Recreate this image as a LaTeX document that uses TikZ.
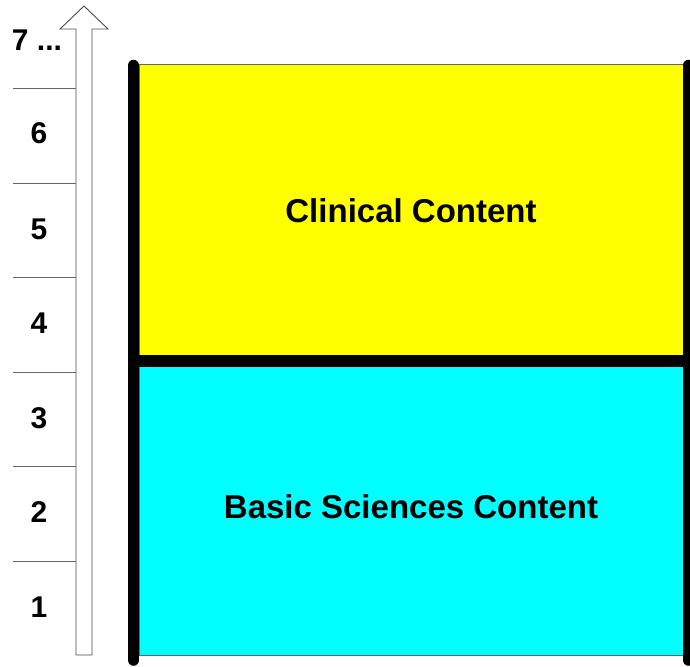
\documentclass[tikz,border=0pt]{standalone}
\usepackage{fontspec}
\setmainfont{Liberation Sans}
\definecolor{clinyellow}{RGB}{255,255,0}
\definecolor{basiccyan}{RGB}{0,255,255}
\begin{document}
\begin{tikzpicture}[x=1pt,y=-1pt,
    bar/.style={line width=11.5pt,line cap=round},
    lbl/.style={font=\fontsize{30}{36}\selectfont\bfseries,inner sep=0pt},
    big/.style={font=\fontsize{33}{40}\selectfont\bfseries,inner sep=0pt}]
            \useasboundingbox (0,0) rectangle (690,666);
            % content blocks
            \filldraw[fill=clinyellow, draw=black!60, line width=0.8pt] (139,64) rectangle (683,360);
            \filldraw[fill=basiccyan, draw=black!60, line width=0.8pt] (139,360) rectangle (683,655);
            \node[big] (clinical) at (411,211) {Clinical Content};
            \node[big] (basic) at (411,507) {Basic Sciences Content};

            \coordinate (lt) at (133.5,65.5);
            \coordinate (lb) at (133.5,660);
            \coordinate (rt) at (688.5,65.5);
            \coordinate (rb) at (688.5,660);
            \coordinate (ml) at (133.5,360.5);
            \coordinate (mr) at (688.5,360.5);
            \draw[bar] (lt)--(lb);
            \draw[bar] (rt)--(rb);
            \draw[line width=12pt] (ml)--(mr);

            % year arrow
            \filldraw[fill=white, draw=black!70, line width=0.9pt]
                (76,655)--(76,29)--(60,29)--(84,6)--(108,29)--(92,29)--(92,655)--cycle;

            \foreach \y in {88, 183, 277, 372, 466, 561}
                \draw[black!60, line width=0.9pt] (13,\y)--(76,\y);

            \foreach \y/\label in {133.5/6, 229/5, 323.5/4, 418/3, 512.5/2, 607/1}
                \node[lbl] (year\label) at (39,\y) {\label};
            \node[lbl] (year7) at (37,40) {7 ...};
\end{tikzpicture}
\end{document}
